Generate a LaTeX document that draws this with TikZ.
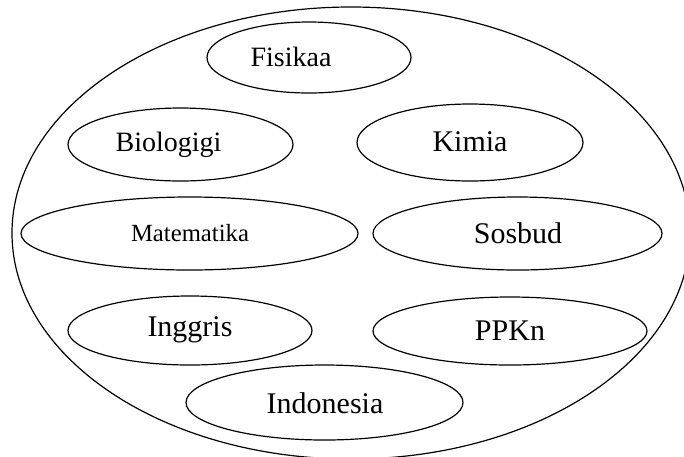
\documentclass[tikz,border=0pt]{standalone}
\usepackage{fontspec}
\setmainfont{Liberation Serif}
\usetikzlibrary{shapes.geometric}
\begin{document}
\begin{tikzpicture}[x=1pt,y=-1pt,
  set/.style={draw, ellipse, line width=1.2pt, inner sep=0pt},
  lbl/.style={inner sep=0pt, font=\fontsize{30}{36}\selectfont}]
\useasboundingbox (0,0) rectangle (684,456);
\begin{scope}
\clip (0,0) rectangle (684,456);
\node[set, minimum width=678pt, minimum height=452pt] (all) at (351,233) {};
\end{scope}
\node[set, minimum width=204pt, minimum height=71pt] (fis) at (309,57.5) {};
\node[set, minimum width=225pt, minimum height=73pt] (bio) at (180.5,144.5) {};
\node[set, minimum width=226pt, minimum height=77pt] (kim) at (470,142.5) {};
\node[set, minimum width=337pt, minimum height=73pt] (mat) at (189.5,233.5) {};
\node[set, minimum width=289pt, minimum height=73pt] (sos) at (517.5,233.5) {};
\node[set, minimum width=244pt, minimum height=69pt] (ing) at (190,330.5) {};
\node[set, minimum width=274pt, minimum height=68pt] (ppk) at (510,331) {};
\node[set, minimum width=277pt, minimum height=75pt] (ind) at (324.5,402.5) {};
\node[lbl, font=\fontsize{28}{34}\selectfont] (tfis) at (291,57) {Fisikaa};
\node[lbl, font=\fontsize{28}{34}\selectfont] (tbio) at (168.5,145) {Biologigi};
\node[lbl] (tkim) at (470,142) {Kimia};
\node[lbl, font=\fontsize{24.7}{30}\selectfont] (tmat) at (190,233) {Matematika};
\node[lbl] (tsos) at (518,233) {Sosbud};
\node[lbl] (ting) at (190,330) {Inggris};
\node[lbl] (tppk) at (510,331) {PPKn};
\node[lbl] (tind) at (325,403) {Indonesia};
\end{tikzpicture}
\end{document}
